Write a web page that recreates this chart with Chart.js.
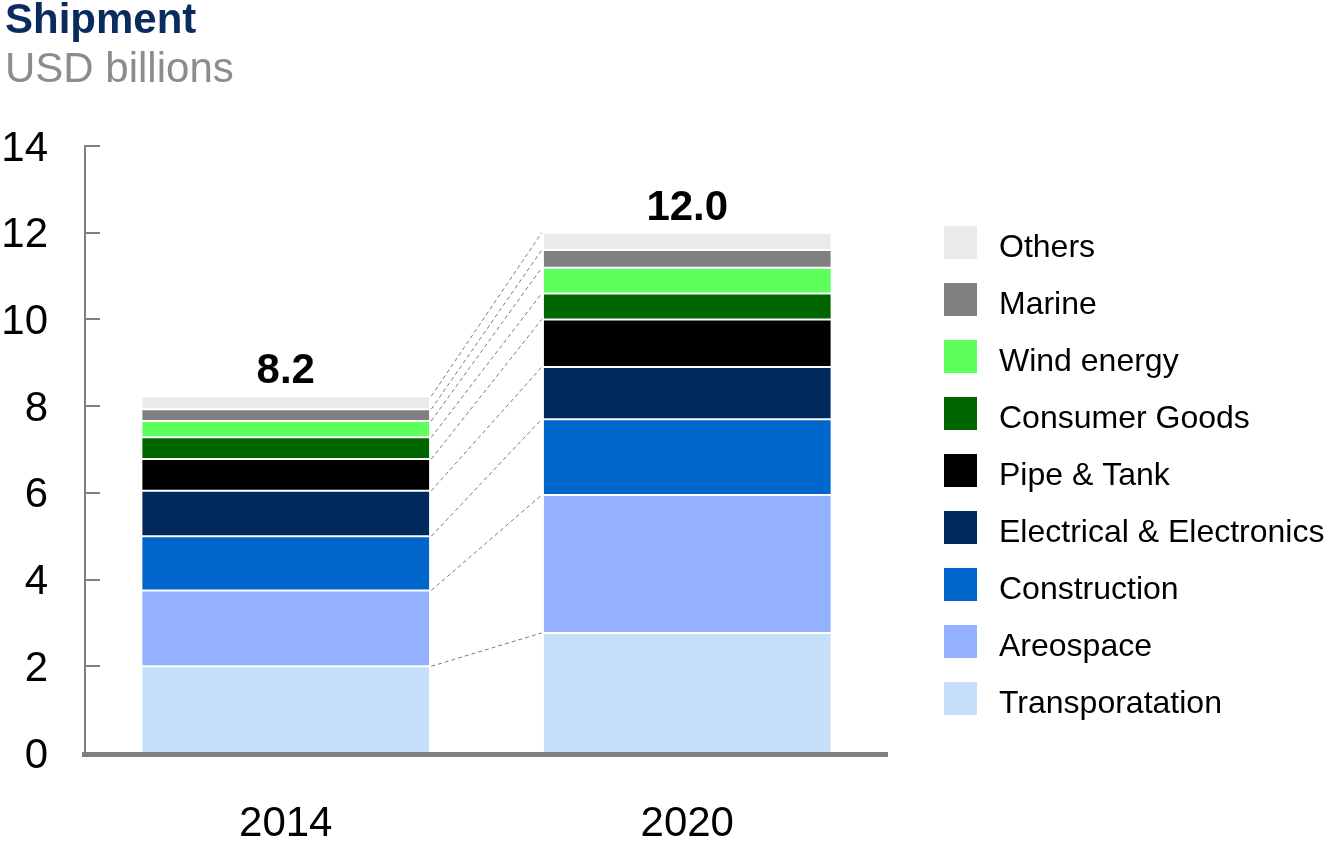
<!DOCTYPE html>
<html>
<head>
<meta charset="utf-8">
<script src="https://cdn.jsdelivr.net/npm/chart.js@4.4.1/dist/chart.umd.min.js"></script>
<style>
  html, body { margin: 0; padding: 0; background: #fff; }
  #wrap { width: 1325px; height: 844px; position: relative; }
</style>
</head>
<body>
<div id="wrap"><canvas id="shipChart"></canvas></div>
<script>
const years = ['2014', '2020'];
const segments = ['Transporatation', 'Areospace', 'Construction', 'Electrical & Electronics',
  'Pipe & Tank', 'Consumer Goods', 'Wind energy', 'Marine', 'Others'];

// USD billions
const transportation = [2.0, 2.77];
const aerospace      = [1.75, 3.18];
const construction   = [1.25, 1.75];
const electrical     = [1.05, 1.2];
const pipeTank       = [0.73, 1.1];
const consumerGoods  = [0.5, 0.6];
const windEnergy     = [0.38, 0.59];
const marine         = [0.27, 0.41];
const others         = [0.3, 0.4];
const totals = [8.2, 12.0];
const yTicks = [0, 2, 4, 6, 8, 10, 12, 14];

const seriesValues = [transportation, aerospace, construction, electrical, pipeTank,
  consumerGoods, windEnergy, marine, others];
const colors = ['#C7E0FA', '#93B1FF', '#0066CC', '#00295E', '#000000',
  '#006600', '#5CFF5C', '#808080', '#EAEAEA'];

const FONT = "'Liberation Sans', Arial, sans-serif";

const decor = {
  id: 'decor',
  afterDatasetsDraw(chart) {
    const ctx = chart.ctx;
    const area = chart.chartArea;
    const y = chart.scales.y;
    ctx.save();

    // dashed connectors between the stacks
    ctx.strokeStyle = '#7a7a7a';
    ctx.lineWidth = 1;
    ctx.setLineDash([4, 3]);
    chart.data.datasets.forEach((ds, i) => {
      const meta = chart.getDatasetMeta(i);
      const a = meta.data[0].getProps(['x', 'y', 'width'], true);
      const b = meta.data[1].getProps(['x', 'y', 'width'], true);
      ctx.beginPath();
      ctx.moveTo(a.x + a.width / 2 + 2, a.y);
      ctx.lineTo(b.x - b.width / 2 - 2, b.y);
      ctx.stroke();
    });
    ctx.setLineDash([]);

    // inward tick marks on the value axis
    ctx.strokeStyle = '#808080';
    ctx.lineWidth = 2;
    yTicks.forEach(v => {
      const py = Math.round(y.getPixelForValue(v));
      ctx.beginPath();
      ctx.moveTo(area.left, py);
      ctx.lineTo(area.left + 15, py);
      ctx.stroke();
    });

    // base line
    ctx.fillStyle = '#808080';
    ctx.fillRect(area.left - 3, area.bottom - 1, area.right - area.left + 3, 5);

    // totals
    const last = chart.getDatasetMeta(chart.data.datasets.length - 1);
    ctx.fillStyle = '#000';
    ctx.font = 'bold 42px ' + FONT;
    ctx.textAlign = 'center';
    ctx.textBaseline = 'alphabetic';
    totals.forEach((t, j) => {
      const bar = last.data[j].getProps(['x', 'y'], true);
      ctx.fillText(t.toFixed(1), bar.x, bar.y - 13);
    });

    // title
    ctx.textAlign = 'left';
    ctx.fillStyle = '#0A2B5E';
    ctx.font = 'bold 42px ' + FONT;
    ctx.fillText('Shipment', 5, 33);
    ctx.fillStyle = '#8C8C8C';
    ctx.font = '42px ' + FONT;
    ctx.fillText('USD billions', 5, 82);

    // legend, top item = last dataset
    ctx.font = '32px ' + FONT;
    const n = chart.data.datasets.length;
    for (let k = 0; k < n; k++) {
      const ds = chart.data.datasets[n - 1 - k];
      const top = 226 + k * 57;
      ctx.fillStyle = ds.backgroundColor;
      ctx.fillRect(944, top, 33, 33);
      ctx.fillStyle = '#000';
      ctx.fillText(ds.label, 999, top + 31);
    }
    ctx.restore();
  }
};

new Chart(document.getElementById('shipChart'), {
  type: 'bar',
  data: {
    labels: years,
    datasets: segments.map((name, i) => ({
      label: name,
      data: seriesValues[i],
      backgroundColor: colors[i],
      borderColor: '#ffffff',
      borderWidth: { top: 1, bottom: 1, left: 0, right: 0 },
      borderSkipped: false,
      barPercentage: 0.715,
      categoryPercentage: 1
    }))
  },
  options: {
    responsive: true,
    maintainAspectRatio: false,
    animation: false,
    events: [],
    layout: { padding: { top: 146, right: 437, bottom: 0, left: 0 } },
    plugins: {
      legend: { display: false },
      tooltip: { enabled: false },
      title: { display: false }
    },
    scales: {
      x: {
        stacked: true,
        grid: { display: false, drawTicks: false },
        border: { display: false },
        ticks: { color: '#000', padding: 46, font: { family: FONT, size: 42 } },
        afterFit: (scale) => { scale.height = 91; }
      },
      y: {
        stacked: true,
        min: 0,
        max: 14,
        grid: { display: false, drawTicks: false },
        border: { display: true, color: '#808080', width: 2 },
        ticks: { color: '#000', padding: 37, labelOffset: 3, font: { family: FONT, size: 42 } },
        afterBuildTicks: (axis) => { axis.ticks = yTicks.map(v => ({ value: v })); },
        afterFit: (scale) => { scale.width = 85; }
      }
    }
  },
  plugins: [decor]
});
</script>
</body>
</html>
